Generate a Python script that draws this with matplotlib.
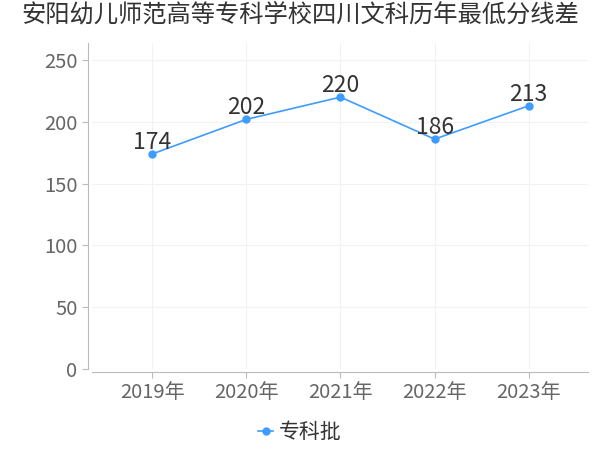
import matplotlib
matplotlib.use("Agg")
import matplotlib.pyplot as plt

plt.rcParams['font.family'] = ['Noto Sans CJK SC', 'DejaVu Sans']

years = ["2019年", "2020年", "2021年", "2022年", "2023年"]
scores = [174, 202, 220, 186, 213]
series_name = "专科批"
title = "安阳幼儿师范高等专科学校四川文科历年最低分线差"

line_color = "#3d9cff"

fig = plt.figure(figsize=(6, 4.5), dpi=100)
ax = fig.add_axes([92 / 600, 81 / 450, 496 / 600, 326 / 450])

x = list(range(len(years)))
ax.plot(x, scores, color=line_color, linewidth=1.2, marker="o", markersize=5, label=series_name)

for xi, v in zip(x, scores):
    ax.annotate(str(v), (xi, v), xytext=(0, 0), textcoords="offset points",
                ha="center", va="bottom", fontsize=16.5, color="#333333")

ax.set_xlim(-0.64, 4.63)
ax.set_ylim(0, 263.8)
ax.set_yticks([0, 50, 100, 150, 200, 250])
ax.set_xticks(x)
ax.set_xticklabels(years)

ax.grid(True, color="#f2f2f2", linewidth=0.8)
ax.set_axisbelow(True)

for s in ["top", "right"]:
    ax.spines[s].set_visible(False)
ax.spines["left"].set_position(("outward", 3))
ax.spines["bottom"].set_position(("outward", 2))
ax.spines["left"].set_color("#bbbbbb")
ax.spines["bottom"].set_color("#bbbbbb")

ax.tick_params(axis="both", colors="#bbbbbb", labelcolor="#666666", labelsize=14.5, length=4)
ax.tick_params(axis="x", pad=3)

fig.suptitle(title, fontsize=17.5, color="#333333", y=0.997)

leg = fig.legend(loc="center", bbox_to_anchor=(0.5, 0.04), frameon=False, fontsize=15,
                 handlelength=0.7, handletextpad=0.3)
for t in leg.get_texts():
    t.set_color("#333333")

fig.savefig("out.png", dpi=100)
